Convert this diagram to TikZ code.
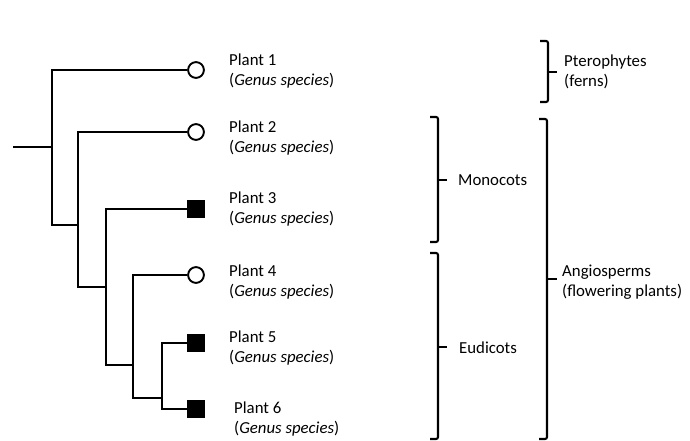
\documentclass[tikz,border=0pt]{standalone}
\usepackage{fontspec}
\setmainfont{Carlito}
\tikzset{
  tree/.style={line width=2.8pt},
  openleaf/.style={circle,draw,line width=1.9pt,fill=white,minimum size=15.8pt,inner sep=0pt},
  shutleaf/.style={rectangle,fill=black,minimum size=18pt,inner sep=0pt},
  clade/.style={line width=2.1pt,rounded corners=2pt},
  taxon/.style={font=\fontsize{16.8}{20}\selectfont,align=left,anchor=base west,inner sep=0pt}
}
\begin{document}
\begin{tikzpicture}[x=1pt,y=-1pt]
\useasboundingbox (0,0) rectangle (690,441);
% leaves
\node[openleaf] (p1) at (196,70) {};
\node[openleaf] (p2) at (196,132) {};
\node[shutleaf] (p3) at (196,209) {};
\node[openleaf] (p4) at (196,275) {};
\node[shutleaf] (p5) at (196,343) {};
\node[shutleaf] (p6) at (196,409) {};
% inner nodes
\coordinate (r0) at (13,147);
\coordinate (n1) at (52,147);
\coordinate (n2) at (78,225);
\coordinate (n3) at (106,287);
\coordinate (n4) at (133,365);
\coordinate (n5) at (162,398);
\draw[tree] (r0) -- (n1);
\draw[tree] (n1) |- (p1.west);
\draw[tree] (n1) |- (n2);
\draw[tree] (n2) |- (p2.west);
\draw[tree] (n2) |- (n3);
\draw[tree] (n3) |- (p3.west);
\draw[tree] (n3) |- (n4);
\draw[tree] (n4) |- (p4.west);
\draw[tree] (n4) |- (n5);
\draw[tree] (n5) |- (p5.west);
\draw[tree] (n5) |- (p6.west);
% names (base = last line)
\node[taxon] (t1) at (229,86) {Plant 1\\(\textit{Genus species})};
\node[taxon] (t2) at (229,152) {Plant 2\\(\textit{Genus species})};
\node[taxon] (t3) at (229,223) {Plant 3\\(\textit{Genus species})};
\node[taxon] (t4) at (229,296) {Plant 4\\(\textit{Genus species})};
\node[taxon] (t5) at (229,362) {Plant 5\\(\textit{Genus species})};
\node[taxon] (t6) at (234,433) {Plant 6\\(\textit{Genus species})};
% groups
\node[taxon] (ferns) at (564,87) {Pterophytes\\(ferns)};
\node[taxon] (mono) at (458,185) {Monocots};
\node[taxon] (angio) at (562,296) {Angiosperms\\(flowering plants)};
\node[taxon] (eudi) at (459,353) {Eudicots};
\draw[clade] (540,41) -- (548,41) -- (548,102) -- (540,102);
\draw[line width=2.1pt] (548,72) -- (557,72);
\draw[clade] (430,117) -- (438,117) -- (438,242) -- (430,242);
\draw[line width=2.1pt] (438,180) -- (447,180);
\draw[clade] (430,253) -- (438,253) -- (438,439) -- (430,439);
\draw[line width=2.1pt] (438,347) -- (447,347);
\draw[clade] (539,119) -- (547,119) -- (547,439) -- (539,439);
\draw[line width=2.1pt] (547,279) -- (557,279);
\end{tikzpicture}
\end{document}
